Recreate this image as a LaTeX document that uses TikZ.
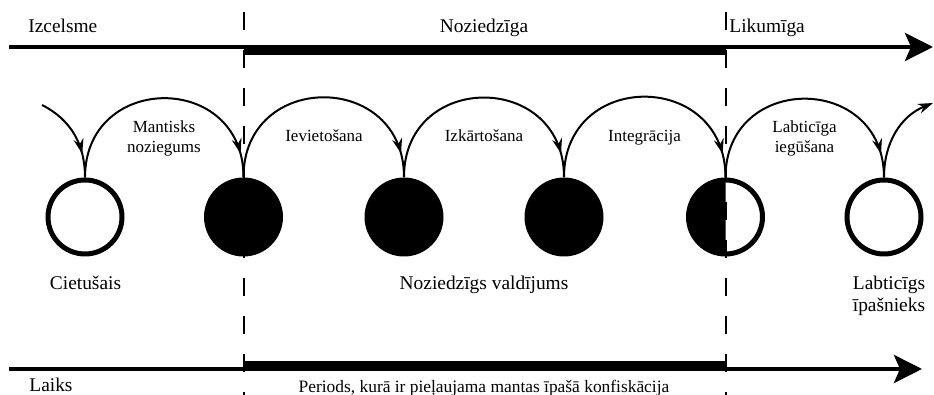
\documentclass[tikz,border=0pt]{standalone}
\usepackage{fontspec}
\setmainfont{Liberation Serif}
\usepackage{tikz}
\usetikzlibrary{arrows.meta, decorations.markings, positioning}
\tikzset{
    bigLabel/.style={font=\rmfamily\fontsize{9.7}{11}\selectfont, inner sep=0pt, align=center},
    smallLabel/.style={font=\rmfamily\fontsize{8.5}{10}\selectfont, inner sep=0pt, align=center},
    openState/.style={circle, draw=black, line width=2.5pt, fill=white, minimum size=37pt, inner sep=0pt},
    darkState/.style={circle, fill=black, minimum size=39.5pt, inner sep=0pt},
    halfState/.style={circle, minimum size=39.5pt, inner sep=0pt, outer sep=0pt},
    stepArc/.style={line width=1pt, postaction={decorate},
        decoration={markings, mark=at position -12pt with {\arrow{Stealth[length=7.5pt, width=5pt, inset=2.5pt]}}}},
    timeAxis/.style={line width=2pt, -{Stealth[length=14pt, width=14pt, inset=3pt]}},
    phaseBar/.style={fill=black},
    border/.style={line width=1pt, dash pattern=on 9pt off 10pt}
}

\begin{document}
\begin{tikzpicture}[x=0.5pt, y=0.5pt]
    \useasboundingbox (0,0) rectangle (934,395);

    % phases on top
    \node[bigLabel, anchor=base west] (origin) at (28,362) {Izcelsme};
    \node[bigLabel, anchor=base] (criminal) at (484,362) {Noziedzīga};
    \node[bigLabel, anchor=base west] (lawful) at (729,362) {Likumīga};
    \coordinate (topStart) at (9,348);
    \coordinate (topEnd) at (933,348);
    \draw[timeAxis] (topStart) -- (topEnd);
    \fill[phaseBar] (243.5,350) rectangle (726,340);

    % states of the property
    \node[openState] (victim) at (85,178) {};
    \node[darkState] (crime) at (243.5,178) {};
    \node[darkState] (placed) at (404,178) {};
    \node[darkState] (layered) at (564,178) {};
    \node[halfState] (merged) at (725.5,178) {};
    \node[openState] (owner) at (884,178) {};
    \fill (merged.center) -- (merged.north) arc[start angle=90, end angle=270, radius=39.5] -- cycle;
    \draw[line width=2.5pt] ([yshift=-1.25pt]merged.north) arc[start angle=90, end angle=-90, radius=37];

    % steps
    \coordinate (inStart) at (42,290);
    \coordinate (outEnd) at (933,292);
    \draw[stepArc] (inStart) to[out=-27, in=90] (victim.north);
    \draw[stepArc] (victim.north) to[out=90, in=90, looseness=1.7] (crime.north);
    \draw[stepArc] (crime.north) to[out=90, in=90, looseness=1.7] (placed.north);
    \draw[stepArc] (placed.north) to[out=90, in=90, looseness=1.7] (layered.north);
    \draw[stepArc] (layered.north) to[out=90, in=90, looseness=1.7] (merged.north);
    \draw[stepArc] (merged.north) to[out=90, in=90, looseness=1.7] (owner.north);
    \draw[line width=1pt, -{Stealth[length=7.5pt, width=5pt, inset=2.5pt]}] (owner.north) to[out=90, in=202] (outEnd);

    \node[smallLabel, anchor=base] (offence) at (164,242) {Mantisks\\noziegums};
    \node[smallLabel, anchor=base] (placement) at (324,253) {Ievietošana};
    \node[smallLabel, anchor=base] (layering) at (484,253) {Izkārtošana};
    \node[smallLabel, anchor=base] (integration) at (644.5,253) {Integrācija};
    \node[smallLabel, anchor=base] (purchase) at (804.5,242) {Labticīga\\iegūšana};

    % holders
    \node[bigLabel, anchor=base] (victimText) at (85.5,105) {Cietušais};
    \node[bigLabel, anchor=base] (holdText) at (484,105) {Noziedzīgs valdījums};
    \node[bigLabel, anchor=base] (ownerText) at (889,83) {Labticīgs\\īpašnieks};

    % time axis
    \node[bigLabel, anchor=base west] (time) at (29,3) {Laiks};
    \node[font=\rmfamily\fontsize{8.7}{10}\selectfont, inner sep=0pt, anchor=base] (period) at (484,2) {Periods, kurā ir pieļaujama mantas īpašā konfiskācija};
    \coordinate (botStart) at (9,26);
    \coordinate (botEnd) at (922,26);
    \draw[timeAxis] (botStart) -- (botEnd);
    \fill[phaseBar] (243.5,24) rectangle (726,34);

    % borders between phases
    \coordinate (borderA) at (243.5,383);
    \coordinate (borderAEnd) at (243.5,0);
    \coordinate (borderB) at (726,383);
    \coordinate (borderBEnd) at (726,0);
    \draw[border] (borderA) -- (borderAEnd);
    \draw[border] (borderB) -- (borderBEnd);
\end{tikzpicture}
\end{document}
